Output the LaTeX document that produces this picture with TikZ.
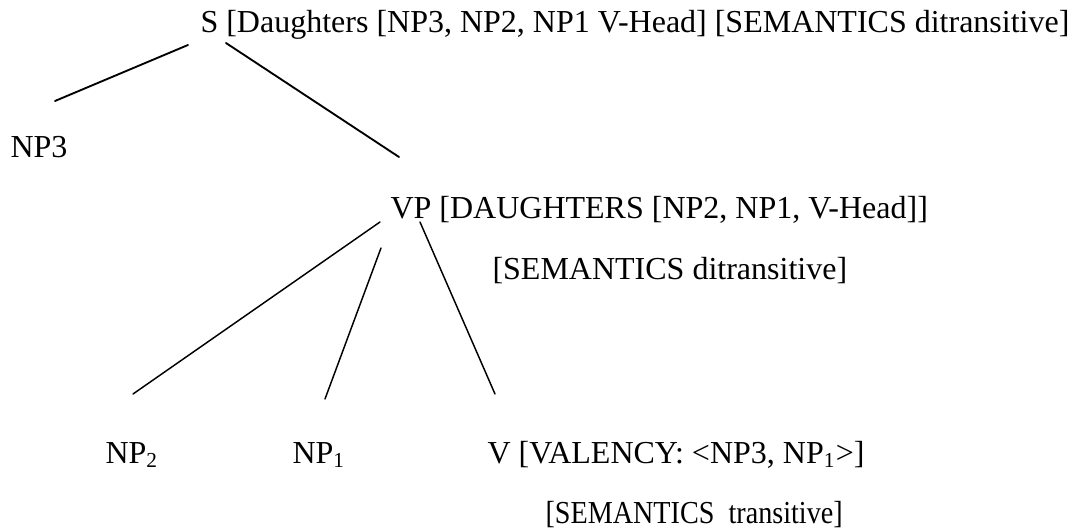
\documentclass[tikz,border=0pt]{standalone}
\usepackage{fontspec}
\setmainfont{Liberation Serif}
\begin{document}
\begin{tikzpicture}[x=0.375pt, y=-0.375pt, line join=round, line cap=round]
            \tikzset{every node/.style={anchor=base west, inner sep=0pt, font=\fontsize{12}{14}\selectfont},
                     branch/.style={line width=0.7pt}, twig/.style={line width=0.55pt}}
            \useasboundingbox (0,0) rectangle (1080,531);
            % labels, at their base lines
            \node (s) at (200,33) {S [Daughters [NP3, NP2, NP1 V-Head] [SEMANTICS ditransitive]};
            \node (np3) at (10,158) {NP3};
            \node (vp) at (390,219) {VP [DAUGHTERS [NP2, NP1, V-Head]]};
            \node (vpsem) at (492,280) {[SEMANTICS ditransitive]};
            \node (np2) at (105,463) {NP\textsubscript{2}};
            \node (np1) at (292,463) {NP\textsubscript{1}};
            \node (v) at (487,463) {V [VALENCY: <NP3, NP\textsubscript{1}>]};
            \node (vsem) at (545,524) {\scalebox{0.88}[1]{[SEMANTICS\ \ transitive]}};
            % branch ends
            \coordinate (s-l) at (188,45);   \coordinate (np3-t) at (55,101);
            \coordinate (s-r) at (226,43);   \coordinate (vp-t) at (399,157);
            \coordinate (vp-a) at (380,222); \coordinate (np2-t) at (133,394);
            \coordinate (vp-b) at (381,248); \coordinate (np1-t) at (325,399);
            \coordinate (vp-c) at (420,222); \coordinate (v-t) at (495,394);
            \draw[branch] (s-l)--(np3-t);
            \draw[branch] (s-r)--(vp-t);
            \draw[twig] (vp-a)--(np2-t);
            \draw[twig] (vp-b)--(np1-t);
            \draw[twig] (vp-c)--(v-t);
        \end{tikzpicture}
\end{document}
